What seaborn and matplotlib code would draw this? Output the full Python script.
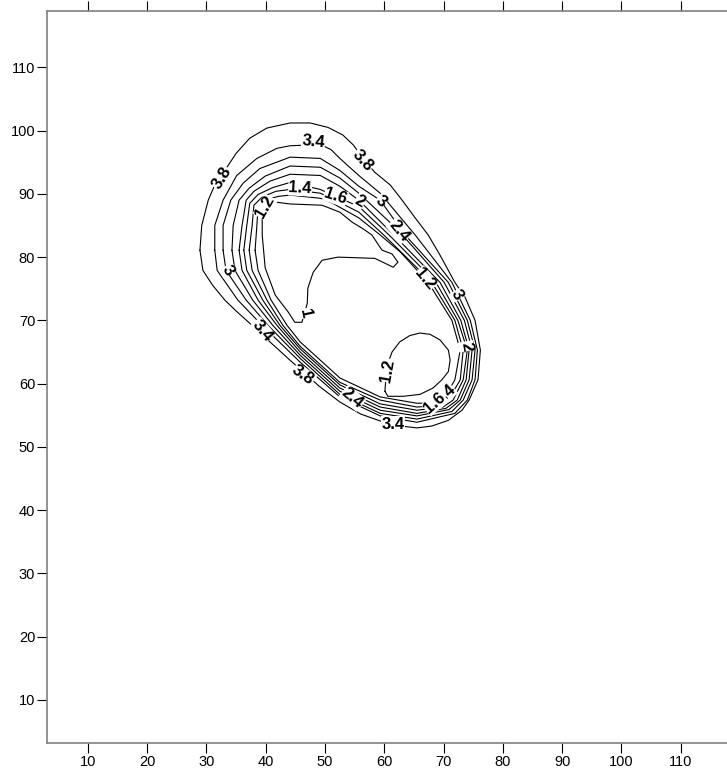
import pandas as pd
import seaborn as sns
import matplotlib.pyplot as plt
from matplotlib.ticker import MultipleLocator

sns.set_style('ticks')
plt.rcParams['font.family'] = ['Liberation Sans', 'DejaVu Sans']
plt.rcParams['text.color'] = 'black'
plt.rcParams['xtick.color'] = 'black'
plt.rcParams['ytick.color'] = 'black'

# contour lines (x, y in map units); every line is closed
c38_x = [28.9, 29.2, 30.3, 31.4, 33.1, 35.0, 37.3, 40.2, 44.1, 47.5, 50.5, 53.0, 54.8, 56.4, 58.4, 61.0, 63.0, 65.2,
         67.4, 69.4, 71.9, 73.6, 75.3, 76.2, 75.8, 74.3, 73.1, 70.8, 68.0, 65.5, 62.0, 59.3, 56.0, 52.5, 49.0, 45.8,
         44.1, 40.7, 37.7, 35.1, 33.1, 31.0, 29.4]
c38_y = [81.1, 85.0, 89.0, 91.4, 93.7, 96.4, 98.8, 100.4, 101.2, 101.2, 100.5, 99.3, 97.7, 95.6, 93.4, 91.4, 89.0,
         86.2, 83.5, 80.3, 76.0, 73.7, 70.0, 65.3, 60.6, 57.4, 55.8, 54.2, 53.3, 53.0, 53.4, 54.1, 55.2, 57.1, 59.6,
         62.3, 63.7, 66.6, 69.2, 71.4, 73.2, 75.6, 77.9]

c34_x = [31.4, 31.4, 32.8, 35.1, 38.5, 41.9, 44.1, 49.2, 51.0, 52.5, 55.7, 59.3, 65.2, 71.4, 74.5, 75.7, 75.3, 74.0,
         71.9, 65.5, 59.3, 52.5, 45.8, 39.4, 35.3, 31.8]
c34_y = [81.1, 85.0, 89.0, 92.9, 95.6, 97.2, 97.6, 97.8, 97.0, 95.6, 92.9, 90.1, 83.5, 76.0, 70.0, 65.3, 60.6, 57.4,
         55.3, 53.9, 54.9, 57.9, 63.4, 69.2, 73.2, 77.9]

c3_x = [32.8, 32.8, 34.1, 36.2, 39.0, 44.1, 49.2, 52.5, 55.7, 59.3, 63.5, 70.8, 74.0, 75.3, 74.8, 73.3, 71.4, 65.5,
        59.3, 52.5, 45.8, 40.4, 36.7, 33.3]
c3_y = [81.1, 85.0, 89.0, 91.7, 94.0, 95.8, 95.6, 93.7, 91.2, 89.0, 83.5, 76.0, 70.0, 65.3, 60.6, 57.4, 55.6, 54.4,
        55.3, 58.3, 64.0, 69.2, 73.2, 77.9]

c24_x = [34.3, 34.5, 35.5, 37.2, 39.9, 44.1, 49.2, 52.5, 55.7, 62.3, 70.1, 73.5, 74.8, 74.3, 72.8, 70.9, 65.5, 59.3,
         52.5, 45.8, 41.2, 37.8, 34.8]
c24_y = [81.1, 85.0, 89.0, 90.9, 92.8, 94.4, 94.2, 92.5, 90.1, 84.3, 76.0, 70.0, 65.3, 60.6, 57.4, 55.9, 54.9, 55.8,
         58.8, 64.5, 69.2, 73.2, 77.9]

c2_x = [35.5, 36.0, 36.7, 38.0, 40.7, 44.1, 49.2, 52.5, 55.7, 61.6, 69.4, 72.9, 74.3, 73.8, 72.3, 70.4, 65.5, 59.3,
        52.5, 45.8, 41.9, 38.7, 36.0]
c2_y = [81.1, 85.0, 89.0, 90.4, 92.0, 93.1, 92.9, 91.2, 89.0, 83.5, 76.0, 70.0, 65.3, 60.6, 57.4, 56.1, 55.3, 56.3,
        59.3, 65.0, 69.2, 73.2, 77.9]

c16_x = [36.3, 36.8, 37.3, 38.7, 41.2, 44.1, 49.2, 51.3, 55.7, 60.8, 68.7, 72.4, 74.0, 73.3, 71.6, 69.9, 65.5, 59.3,
         52.5, 45.8, 42.4, 39.5, 36.8]
c16_y = [81.1, 85.0, 88.5, 89.9, 91.0, 91.8, 90.7, 89.8, 88.0, 83.5, 76.0, 70.0, 65.3, 60.6, 57.4, 56.3, 55.8, 56.8,
         59.8, 65.5, 69.2, 73.2, 77.9]

c14_x = [37.2, 37.7, 38.0, 39.4, 41.7, 44.1, 49.2, 51.3, 55.7, 59.9, 68.0, 71.9, 73.3, 72.8, 70.8, 69.4, 65.5, 59.3,
         52.5, 45.8, 42.9, 40.2, 37.7]
c14_y = [81.1, 85.0, 88.2, 89.5, 90.4, 90.7, 90.1, 89.2, 87.1, 83.5, 76.0, 70.0, 65.3, 60.6, 57.4, 56.6, 56.3, 57.4,
         60.2, 65.9, 69.2, 73.2, 77.9]

c12_x = [38.2, 38.5, 38.7, 39.9, 42.1, 44.1, 49.2, 51.3, 55.7, 59.3, 62.7, 67.4, 71.4, 72.8, 71.9, 69.9, 68.2, 65.5,
         59.3, 52.5, 45.8, 43.6, 40.9, 38.7]
c12_y = [81.1, 85.0, 87.9, 89.0, 89.6, 89.8, 89.3, 88.5, 86.2, 83.5, 80.8, 76.0, 70.0, 65.3, 60.6, 57.4, 56.9, 56.9,
         57.9, 60.9, 66.6, 69.2, 73.2, 77.9]

# horseshoe shaped low (level 1)
c1_x = [40.4, 41.6, 44.1, 49.5, 52.5, 54.6, 56.2, 57.9, 59.6, 61.3, 62.3, 61.5, 58.4, 52.2, 49.5, 48.0, 47.1, 47.0,
        46.1, 44.9, 43.8, 41.6, 39.9, 39.4, 39.4]
c1_y = [88.2, 88.7, 88.4, 88.2, 87.1, 85.5, 84.6, 83.5, 81.1, 80.5, 79.2, 78.4, 79.8, 80.0, 79.5, 77.6, 75.1, 72.7,
        69.7, 69.7, 71.3, 74.0, 78.3, 83.5, 86.2]

# small closed low in the south-east (level 1.2)
loop_x = [60.1, 60.6, 63.2, 66.0, 68.2, 69.7, 70.8, 71.1, 70.8, 69.4, 67.7, 66.0, 64.3, 62.6, 61.3, 60.8, 60.3]
loop_y = [58.8, 58.0, 58.0, 58.3, 59.3, 60.6, 61.9, 63.7, 65.3, 66.9, 67.8, 68.0, 67.6, 66.6, 65.0, 63.7, 61.4]

# contour labels as placed on the map
lab_text = ['3.8', '3.4', '3.8', '1.4', '1.6', '2', '3', '1.2', '2.4', '1.2', '3', '3', '1', '2',
            '3.4', '1.2', '3.8', '2.4', '1.4', '1.6', '3.4']
lab_x = [32.6, 48.0, 56.4, 45.8, 51.8, 55.9, 59.4, 39.9, 62.5, 66.9, 72.3, 33.6, 46.6, 73.8,
         39.4, 60.5, 46.3, 54.6, 70.1, 68.5, 61.5]
lab_y = [92.5, 98.2, 95.3, 90.9, 89.6, 88.8, 88.8, 87.9, 84.2, 76.5, 74.0, 77.9, 71.1, 65.9,
         68.4, 62.1, 61.3, 57.7, 58.2, 57.0, 53.6]
lab_rot = [58, -6, -48, -3, -18, -30, -40, 60, -50, -50, -60, -58, -78, -80,
           -50, 80, -35, -40, 42, 42, 0]

curves = {
    '3.8': (c38_x, c38_y), '3.4': (c34_x, c34_y), '3': (c3_x, c3_y), '2.4': (c24_x, c24_y),
    '2': (c2_x, c2_y), '1.6': (c16_x, c16_y), '1.4': (c14_x, c14_y), '1.2': (c12_x, c12_y),
    '1': (c1_x, c1_y), '1.2b': (loop_x, loop_y),
}
rows = []
for name, (xs, ys) in curves.items():
    xs = list(xs) + [xs[0]]
    ys = list(ys) + [ys[0]]
    for i in range(len(xs)):
        rows.append((name, i, xs[i], ys[i]))
df = pd.DataFrame(rows, columns=['curve', 'order', 'x', 'y'])

fig = plt.figure(figsize=(7.27, 7.75), dpi=100)
ax = fig.add_axes([47 / 727, 32 / 775, 680 / 727, 732 / 775])

sns.lineplot(data=df, x='x', y='y', units='curve', estimator=None, sort=False,
             color='black', linewidth=0.8, legend=False, ax=ax)

for t, x, y, r in zip(lab_text, lab_x, lab_y, lab_rot):
    ax.text(x, y, t, rotation=r, ha='center', va='center', fontsize=12,
            fontweight='bold', rotation_mode='anchor', zorder=5,
            bbox=dict(boxstyle='square,pad=0.02', fc='white', ec='none'))

ax.set_xlim(3.1, 117.8)
ax.set_ylim(3.2, 118.9)
ax.xaxis.set_major_locator(MultipleLocator(10))
ax.yaxis.set_major_locator(MultipleLocator(10))
ax.set_xticks(range(10, 120, 10))
ax.set_yticks(range(10, 120, 10))
ax.set_xlabel('')
ax.set_ylabel('')
ax.spines['right'].set_visible(False)
for s in ['left', 'bottom', 'top']:
    ax.spines[s].set_color('#808080')
    ax.spines[s].set_linewidth(1.2)
ax.tick_params(axis='both', direction='out', length=7, width=0.8, color='black',
               labelcolor='black', labelsize=10.5, pad=1.5)
ax.tick_params(axis='x', top=True, labeltop=False)

fig.savefig('out.png', dpi=100)
